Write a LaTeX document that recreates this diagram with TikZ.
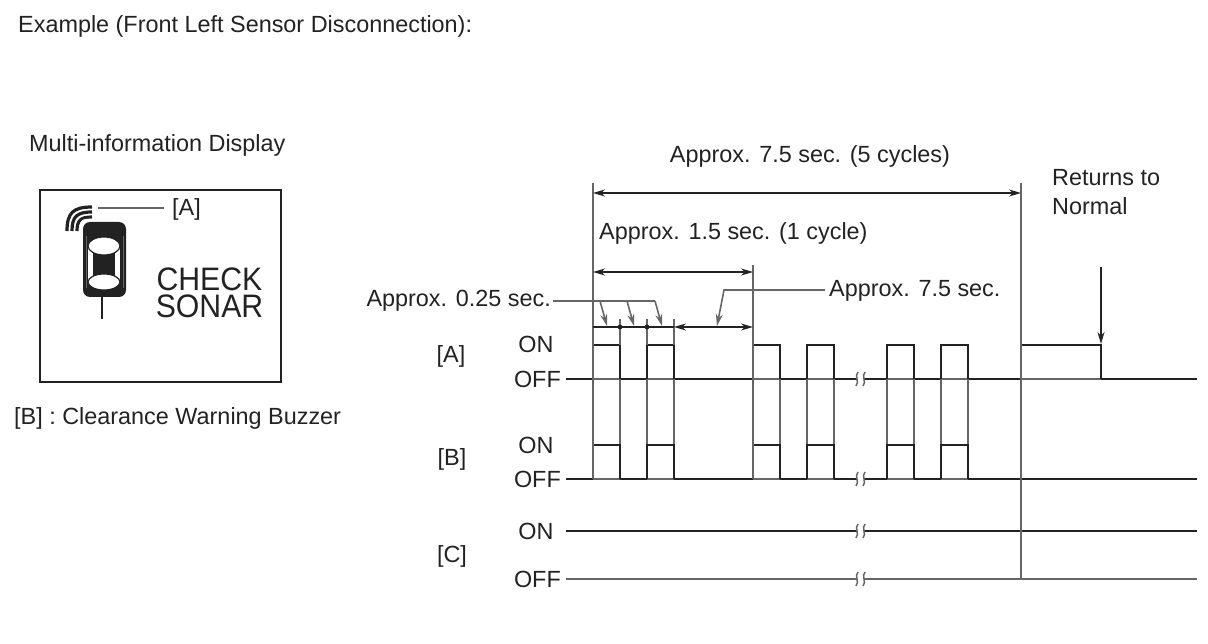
\documentclass[tikz,border=0pt]{standalone}
\usepackage{fontspec}
\setmainfont{Liberation Sans}
\usetikzlibrary{arrows.meta}
\definecolor{ink}{HTML}{222222}
\definecolor{soft}{HTML}{666666}
\tikzset{
    sig/.style={draw=ink,line width=2.6pt},
    thin line/.style={draw=soft,line width=1.8pt},
    dim/.style={draw=ink,line width=1.6pt,{Stealth[length=12pt,width=7pt]}-{Stealth[length=12pt,width=7pt]}},
    lead/.style={draw=soft,line width=1.6pt},
    leadtip/.style={lead,-{Stealth[length=12pt,width=7pt]}},
    lab/.style={text=ink,font=\fontsize{23.4}{27}\selectfont,inner sep=0pt},
    big/.style={text=ink,font=\fontsize{32.5}{25}\selectfont,inner sep=0pt,xscale=0.93},
}
\begin{document}
\begin{tikzpicture}[x=1pt,y=-1pt]
    \useasboundingbox (0,0) rectangle (1208,644);
    \node[lab,anchor=west] (title) at (18,26) {Example (Front Left Sensor Disconnection):};
    \node[lab,anchor=west] (mid) at (29,145) {Multi-information Display};
    \node[lab,anchor=west] (buzzer) at (14,418.5) {[B] : Clearance Warning Buzzer};

    % display
    \draw[draw=ink,line width=2.6pt] (40,190) rectangle (281,382);
    \foreach \r in {9,14,19,24}{
        \draw[ink,line width=3.2pt] (91-\r,231) .. controls (91-\r,231-.75*\r) and (91-.75*\r,231-\r) .. (92,231-\r);
    }
    \fill[white,rounded corners=6pt] (80,219) rectangle (129,300);
    \fill[ink,rounded corners=7pt] (83,222) rectangle (126,297);
    \fill[white] (88,246) rectangle (120,282);
    \fill[ink] (93,246) rectangle (115,282);
    \filldraw[fill=white,draw=ink,line width=1.2pt] (104,246) ellipse (16 and 9);
    \filldraw[fill=white,draw=ink,line width=1.2pt] (104,282) ellipse (16 and 8);
    \draw[soft,line width=1pt] (86,236) -- (86,288);
    \draw[soft,line width=1pt] (123,236) -- (123,288);
    \draw[ink,line width=1.6pt] (102,297) -- (102,319);
    \node[lab,anchor=west] (dispa) at (172,209) {[A]};
    \coordinate (wave) at (98,208);
    \draw[lead] (dispa.west)++(-8,-1) -- (wave);
    \node[big] (check) at (209.5,279) {CHECK};
    \node[big] (sonar) at (209.5,306.5) {SONAR};

    % labels of the rows
    \node[lab] (rowa) at (451,356) {[A]};
    \node[lab] (rowb) at (452,459) {[B]};
    \node[lab] (rowc) at (452,556) {[C]};
    \foreach \n/\y in {a/344,b/445,c/531}{
        \node[lab] (on\n) at (536,\y) {ON};
    }
    \foreach \n/\y in {a/379,b/479,c/579}{
        \node[lab,anchor=east] (off\n) at (561,\y) {OFF};
    }

    % signals
    \draw[thin line] (566,379) -- (1197,379);
    \draw[thin line] (566,479) -- (1197,479);
    \draw[sig] (566,531) -- (1197,531);
    \draw[thin line] (offc.east)++(5,0) -- (1197,579);
    \foreach \a/\b in {566/593,620/647,674/753,780/807,834/887,914/941,968/1021,1101/1197}{
        \draw[sig] (\a,379) -- (\b,379);
    }
    \foreach \a/\b in {566/593,620/647,674/753,780/807,834/887,914/941,968/1197}{
        \draw[sig] (\a,479) -- (\b,479);
    }
    \foreach \a in {593,647,753,807,887,941}{
        \draw[thin line] (\a,345) -- (\a,479);
        \draw[thin line] (\a+27,345) -- (\a+27,479);
        \draw[sig] (\a,379) -- (\a,345) -- ++(27,0) -- ++(0,34);
        \draw[sig] (\a,479) -- (\a,445) -- ++(27,0) -- ++(0,34);
    }
    \draw[sig] (1021,379) -- (1021,345) -- (1101,345) -- (1101,379);
    \foreach \y in {379,479,531,579}{
        \fill[white] (857,\y-5) rectangle (864,\y+5);
        \draw[soft,line width=1.5pt] (858,\y-7) .. controls (854,\y-3) and (860,\y+3) .. (856,\y+7);
        \draw[soft,line width=1.5pt] (865,\y-7) .. controls (861,\y-3) and (867,\y+3) .. (863,\y+7);
    }

    % extension lines
    \coordinate (ta) at (593,183);
    \coordinate (te) at (1021,183);
    \coordinate (tb) at (753,265);
    \draw[thin line] (ta) -- (593,479);
    \draw[thin line] (te) -- (1021,579);
    \draw[thin line] (tb) -- (753,479);
    \foreach \a in {620,647,674}{
        \draw[thin line] (\a,319) -- (\a,345);
    }

    % dimensions
    \node[lab] (total) at (810,156) {Approx. 7.5 sec. (5 cycles)};
    \draw[dim] (593,193) -- (1021,193);
    \node[lab,anchor=west] (cycle) at (599,233) {Approx. 1.5 sec. (1 cycle)};
    \draw[dim] (593,272) -- (753,272);
    \draw[ink,line width=1.6pt] (593,327) -- (674,327);
    \foreach \a in {620,647}{
        \fill[ink] (\a,327) circle (2.4);
    }
    \draw[dim] (674,327) -- (753,327);

    \node[lab,anchor=east] (quarter) at (551,301) {Approx. 0.25 sec.};
    \draw[lead] (quarter.east)++(2,0) -- (655,301);
    \foreach \a in {600,627,655}{
        \draw[leadtip] (\a,301) -- (\a+7,326);
    }
    \node[lab,anchor=west] (rest) at (829,291) {Approx. 7.5 sec.};
    \draw[leadtip] (rest.west)++(-4,-1) -- (724,290) -- (717,326);

    \node[lab,anchor=west] (ret) at (1052,178) {Returns to};
    \node[lab,anchor=west] (norm) at (1052,206) {Normal};
    \coordinate (retend) at (1101,267);
    \draw[ink,line width=1.6pt,-{Stealth[length=12pt,width=7pt]}] (retend) -- (1101,344);
\end{tikzpicture}
\end{document}
